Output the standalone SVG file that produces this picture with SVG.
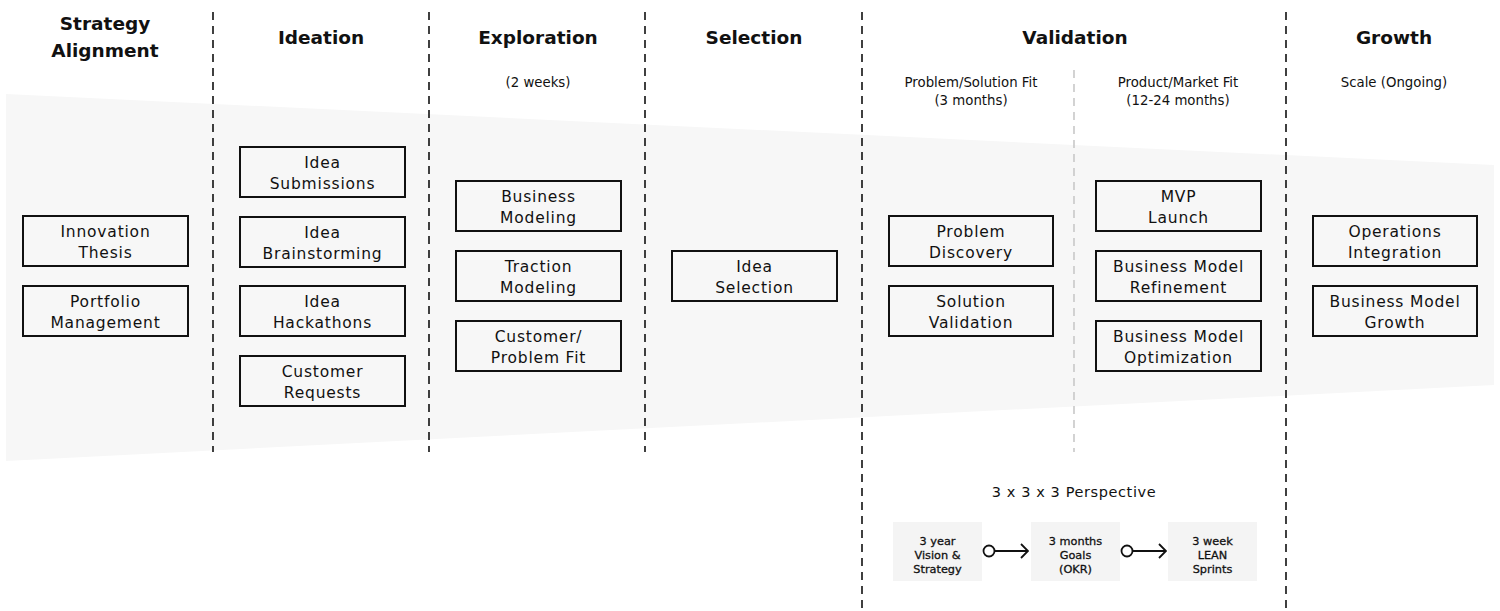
<svg xmlns="http://www.w3.org/2000/svg" width="1500" height="611" viewBox="0 0 1500 611">
<style>
.bg{fill:#f7f7f7}
.sep{stroke:#111;stroke-width:1.6;stroke-dasharray:8 6;fill:none}
.sep2{stroke:#c8c8c8;stroke-width:1.6;stroke-dasharray:8 6;fill:none}
.box{fill:none;stroke:#111;stroke-width:2}
.t{font-family:"DejaVu Sans",sans-serif;font-size:15.5px;letter-spacing:0.8px;fill:#111;text-anchor:middle}
.h{font-family:"DejaVu Sans",sans-serif;font-size:18.5px;font-weight:700;fill:#111;text-anchor:middle}
.s{font-family:"DejaVu Sans",sans-serif;font-size:13.3px;fill:#111;text-anchor:middle}
.p{font-family:"DejaVu Sans",sans-serif;font-size:14.5px;letter-spacing:0.6px;fill:#111;text-anchor:middle}
.pb{fill:#f4f4f4}
.pt{font-family:"DejaVu Sans",sans-serif;font-size:11.3px;fill:#111;stroke:#111;stroke-width:0.3;text-anchor:middle}
.ln{stroke:#111;stroke-width:1.8;fill:none}
</style>
<defs>
<marker id="arr" viewBox="0 0 10 16" refX="9" refY="8" markerWidth="10" markerHeight="16" markerUnits="userSpaceOnUse" orient="auto">
<path d="M2,1 L9,8 L2,15" fill="none" stroke="#111" stroke-width="1.8"/>
</marker>
</defs>
<polygon class="bg" points="6,94 1494,165 1494,385 6,461"/>
<g id="separators">
<line class="sep" x1="213" y1="12" x2="213" y2="452"/>
<line class="sep" x1="429" y1="12" x2="429" y2="452"/>
<line class="sep" x1="645" y1="12" x2="645" y2="452"/>
<line class="sep" x1="862" y1="12" x2="862" y2="611"/>
<line class="sep" x1="1286" y1="12" x2="1286" y2="611"/>
<line class="sep2" x1="1074" y1="70" x2="1074" y2="452"/>
</g>
<g id="headers">
<text class="h" x="105" y="30">Strategy</text>
<text class="h" x="105" y="57">Alignment</text>
<text class="h" x="321" y="44">Ideation</text>
<text class="h" x="538" y="44">Exploration</text>
<text class="h" x="754" y="44">Selection</text>
<text class="h" x="1075" y="44">Validation</text>
<text class="h" x="1394" y="44">Growth</text>
<text class="s" x="538" y="87">(2 weeks)</text>
<text class="s" x="971" y="87">Problem/Solution Fit</text>
<text class="s" x="971" y="105">(3 months)</text>
<text class="s" x="1178" y="87">Product/Market Fit</text>
<text class="s" x="1178" y="105">(12-24 months)</text>
<text class="s" x="1394" y="87">Scale (Ongoing)</text>
</g>
<g id="innovation-thesis"><rect class="box" x="23" y="216" width="165" height="50"/><text class="t" x="105.5" y="237">Innovation</text><text class="t" x="105.5" y="258">Thesis</text></g>
<g id="portfolio-management"><rect class="box" x="23" y="286" width="165" height="50"/><text class="t" x="105.5" y="307">Portfolio</text><text class="t" x="105.5" y="328">Management</text></g>
<g id="idea-submissions"><rect class="box" x="240" y="147" width="165" height="50"/><text class="t" x="322.5" y="168">Idea</text><text class="t" x="322.5" y="189">Submissions</text></g>
<g id="idea-brainstorming"><rect class="box" x="240" y="217" width="165" height="50"/><text class="t" x="322.5" y="238">Idea</text><text class="t" x="322.5" y="259">Brainstorming</text></g>
<g id="idea-hackathons"><rect class="box" x="240" y="286" width="165" height="50"/><text class="t" x="322.5" y="307">Idea</text><text class="t" x="322.5" y="328">Hackathons</text></g>
<g id="customer-requests"><rect class="box" x="240" y="356" width="165" height="50"/><text class="t" x="322.5" y="377">Customer</text><text class="t" x="322.5" y="398">Requests</text></g>
<g id="business-modeling"><rect class="box" x="456" y="181" width="165" height="50"/><text class="t" x="538.5" y="202">Business</text><text class="t" x="538.5" y="223">Modeling</text></g>
<g id="traction-modeling"><rect class="box" x="456" y="251" width="165" height="50"/><text class="t" x="538.5" y="272">Traction</text><text class="t" x="538.5" y="293">Modeling</text></g>
<g id="customer-problem-fit"><rect class="box" x="456" y="321" width="165" height="50"/><text class="t" x="538.5" y="342">Customer/</text><text class="t" x="538.5" y="363">Problem Fit</text></g>
<g id="idea-selection"><rect class="box" x="672" y="251" width="165" height="50"/><text class="t" x="754.5" y="272">Idea</text><text class="t" x="754.5" y="293">Selection</text></g>
<g id="problem-discovery"><rect class="box" x="889" y="216" width="164" height="50"/><text class="t" x="971" y="237">Problem</text><text class="t" x="971" y="258">Discovery</text></g>
<g id="solution-validation"><rect class="box" x="889" y="286" width="164" height="50"/><text class="t" x="971" y="307">Solution</text><text class="t" x="971" y="328">Validation</text></g>
<g id="mvp-launch"><rect class="box" x="1096" y="181" width="165" height="50"/><text class="t" x="1178.5" y="202">MVP</text><text class="t" x="1178.5" y="223">Launch</text></g>
<g id="bm-refinement"><rect class="box" x="1096" y="251" width="165" height="50"/><text class="t" x="1178.5" y="272">Business Model</text><text class="t" x="1178.5" y="293">Refinement</text></g>
<g id="bm-optimization"><rect class="box" x="1096" y="321" width="165" height="50"/><text class="t" x="1178.5" y="342">Business Model</text><text class="t" x="1178.5" y="363">Optimization</text></g>
<g id="operations-integration"><rect class="box" x="1313" y="216" width="164" height="50"/><text class="t" x="1395" y="237">Operations</text><text class="t" x="1395" y="258">Integration</text></g>
<g id="bm-growth"><rect class="box" x="1313" y="286" width="164" height="50"/><text class="t" x="1395" y="307">Business Model</text><text class="t" x="1395" y="328">Growth</text></g>
<text class="p" x="1074" y="497">3 x 3 x 3 Perspective</text>
<g id="vision"><rect class="pb" x="893" y="522" width="89" height="59"/><text class="pt" x="937.5" y="545">3 year</text><text class="pt" x="937.5" y="559">Vision &amp;</text><text class="pt" x="937.5" y="573">Strategy</text></g>
<g id="goals"><rect class="pb" x="1031" y="522" width="89" height="59"/><text class="pt" x="1075.5" y="545">3 months</text><text class="pt" x="1075.5" y="559">Goals</text><text class="pt" x="1075.5" y="573">(OKR)</text></g>
<g id="sprints"><rect class="pb" x="1168" y="522" width="89" height="59"/><text class="pt" x="1212.5" y="545">3 week</text><text class="pt" x="1212.5" y="559">LEAN</text><text class="pt" x="1212.5" y="573">Sprints</text></g>
<g id="connectors">
<circle class="ln" cx="989" cy="551" r="5.5" fill="#fff"/>
<line class="ln" x1="994.5" y1="551" x2="1028" y2="551" marker-end="url(#arr)"/>
<circle class="ln" cx="1127" cy="551" r="5.5" fill="#fff"/>
<line class="ln" x1="1132.5" y1="551" x2="1166" y2="551" marker-end="url(#arr)"/>
</g>
</svg>
